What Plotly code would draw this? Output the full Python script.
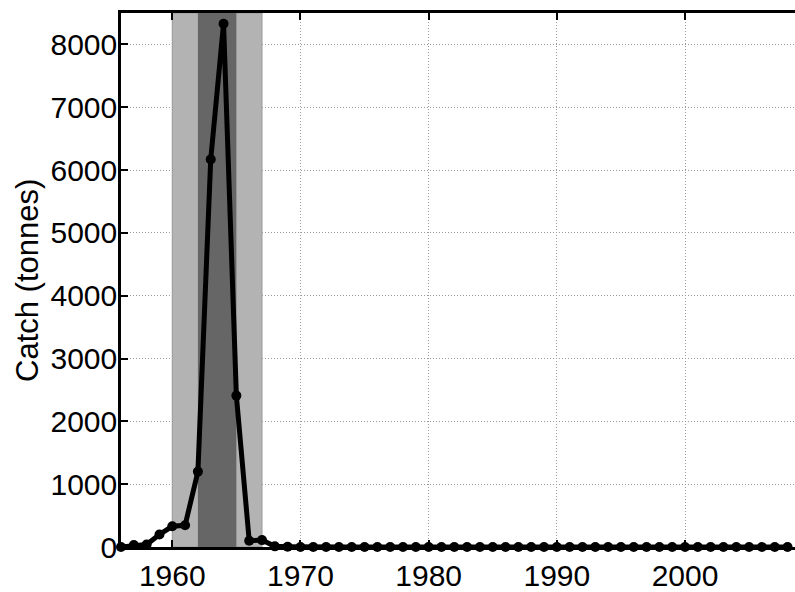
import plotly.graph_objects as go

years = list(range(1956, 2009))
catch = [0, 30, 40, 200, 330, 345, 1200, 6170, 8330, 2410, 100, 110, 10, 5,
         0, 0, 0, 0, 0, 0, 0, 0, 0, 0,
         0, 0, 0, 0, 0, 0, 0, 0, 0, 0,
         0, 0, 0, 0, 0, 0, 0, 0, 0, 0,
         0, 0, 0, 0, 0, 0, 0, 0, 0]
light_period = [1960, 1967]
dark_period = [1962, 1965]
x_ticks = [1960, 1970, 1980, 1990, 2000]
y_ticks = [0, 1000, 2000, 3000, 4000, 5000, 6000, 7000, 8000]
y_label = "Catch (tonnes)"

FONT = "Liberation Sans, Arial, Helvetica, sans-serif"

fig = go.Figure()
fig.add_trace(go.Scatter(
    x=years, y=catch, mode="lines+markers",
    line=dict(color="black", width=5),
    marker=dict(color="black", size=10),
    cliponaxis=False, showlegend=False,
))

fig.add_shape(type="rect", xref="x", yref="y",
              x0=light_period[0], x1=light_period[1], y0=0, y1=8500,
              fillcolor="#b3b3b3", line=dict(color="#999999", width=1),
              layer="between")
fig.add_shape(type="rect", xref="x", yref="y",
              x0=dark_period[0], x1=dark_period[1], y0=0, y1=8500,
              fillcolor="#666666", line=dict(width=0),
              layer="between")

axis_common = dict(
    showline=True, linecolor="black", linewidth=2.5,
    ticks="inside", ticklen=7, tickwidth=1.5, tickcolor="black",
    showgrid=True, gridcolor="#9a9a9a", gridwidth=1, griddash="1px,2px",
    zeroline=False,
    tickfont=dict(family=FONT, size=30, color="black"),
)

fig.update_xaxes(range=[1956, 2008.58], tickvals=x_ticks,
                 mirror="ticks", ticklabelstandoff=0, **axis_common)
fig.update_yaxes(range=[0, 8500], tickvals=y_ticks,
                 ticklabelstandoff=-5, **axis_common)

fig.add_annotation(text=y_label, xref="paper", yref="paper",
                   x=-0.1395, y=0.5, xanchor="center", yanchor="middle",
                   textangle=-90, showarrow=False,
                   font=dict(family=FONT, size=31, color="black"))

fig.update_layout(
    width=795, height=592,
    margin=dict(l=121, r=0, t=13, b=40),
    paper_bgcolor="white", plot_bgcolor="white",
    font=dict(family=FONT, color="black"),
)

fig.write_html("out.html")
